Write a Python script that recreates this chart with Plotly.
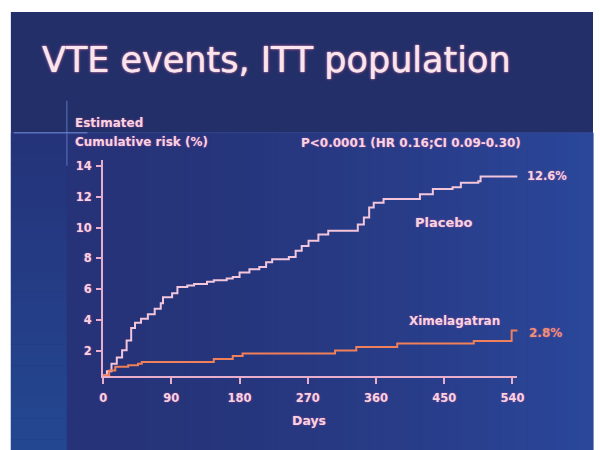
import numpy as np
import plotly.graph_objects as go

# ---------------- data ----------------
placebo_days = [0, 5, 11, 18, 25, 31, 37, 42, 50, 59, 68, 76, 79, 86, 91, 98, 111, 120,
                137, 146, 163, 171, 180, 193, 206, 215, 223, 241, 245, 254, 262, 271,
                284, 297, 327, 336, 344, 351, 357, 370, 409, 418, 435, 461, 472, 495,
                498, 547]
placebo_risk = [0.45, 0.7, 1.2, 1.6, 2.06, 2.7, 3.5, 3.85, 4.1, 4.4, 4.75, 5.1, 5.5, 5.5,
                5.75, 6.15, 6.25, 6.35, 6.5, 6.6, 6.7, 6.8, 7.1, 7.3, 7.45, 7.75, 7.95,
                7.95, 8.1, 8.5, 8.8, 9.15, 9.55, 9.8, 9.8, 10.2, 10.65, 11.3, 11.6, 11.85,
                11.85, 12.15, 12.5, 12.6, 12.9, 13.0, 13.3, 13.3]

ximel_days = [0, 8, 16, 29, 33, 46, 51, 141, 146, 163, 171, 184, 301, 306, 328, 334,
              385, 388, 485, 489, 537, 539, 547]
ximel_risk = [0.45, 0.75, 1.0, 1.0, 1.1, 1.2, 1.3, 1.3, 1.5, 1.5, 1.7, 1.85, 1.85, 2.05,
              2.05, 2.28, 2.28, 2.5, 2.5, 2.66, 2.66, 3.35, 3.4]

x_ticks = [0, 90, 180, 270, 360, 450, 540]
y_ticks = [2, 4, 6, 8, 10, 12, 14]

title_text = "VTE events, ITT population"
y_title_lines = ["Estimated", "Cumulative risk (%)"]
p_text = "P<0.0001 (HR 0.16;CI 0.09-0.30)"
placebo_label = "Placebo"
ximel_label = "Ximelagatran"
placebo_end = "12.6%"
ximel_end = "2.8%"
x_title = "Days"

# ---------------- styling ----------------
W, H = 600, 450
PINK = "#f6d3e2"
PLACEBO_COLOR = "#f3c6dc"
XIMEL_COLOR = "#f0805a"
AXIS_COLOR = "#e9aecb"
GLOW = "0px 0px 2px rgba(255,90,160,0.55)"
FONT = "DejaVu Sans"


def px(x):
    return x / W


def py(y):
    return 1 - y / H


shapes = []
# slide base
shapes.append(dict(type="rect", xref="paper", yref="paper", x0=px(7), x1=px(600),
                   y0=py(450), y1=py(11), fillcolor="#232f68", line_width=0, layer="below"))
# lower area: navy on the left shading to brighter blue on the right
n = 40
xs = np.linspace(64, 600, n + 1)
c0 = np.array([0x26, 0x33, 0x78])
c1 = np.array([0x2b, 0x47, 0x9a])
for i in range(n):
    t = (i / (n - 1)) ** 1.6
    c = (c0 + (c1 - c0) * t).astype(int)
    shapes.append(dict(type="rect", xref="paper", yref="paper", x0=px(xs[i]), x1=px(xs[i + 1]) + 0.001,
                       y0=py(450), y1=py(132), fillcolor="rgb(%d,%d,%d)" % tuple(c),
                       line_width=0, layer="below"))
# left strip: navy at the top shading to brighter blue at the bottom
m = 30
ys = np.linspace(132, 450, m + 1)
d0 = np.array([0x25, 0x34, 0x7a])
d1 = np.array([0x24, 0x47, 0x92])
for i in range(m):
    t = i / (m - 1)
    c = (d0 + (d1 - d0) * t).astype(int)
    shapes.append(dict(type="rect", xref="paper", yref="paper", x0=px(7), x1=px(64),
                       y0=py(ys[i + 1]) - 0.001, y1=py(ys[i]), fillcolor="rgb(%d,%d,%d)" % tuple(c),
                       line_width=0, layer="below"))
shapes.append(dict(type="line", xref="paper", yref="paper", x0=px(7), x1=px(600),
                   y0=py(132), y1=py(132), line=dict(color="rgba(70,95,170,0.45)", width=1),
                   layer="below"))
shapes.append(dict(type="line", xref="paper", yref="paper", x0=px(10), x1=px(85),
                   y0=py(132), y1=py(132), line=dict(color="rgba(120,150,225,0.6)", width=1.5),
                   layer="below"))
shapes.append(dict(type="line", xref="paper", yref="paper", x0=px(64), x1=px(64),
                   y0=py(165), y1=py(100), line=dict(color="rgba(110,140,215,0.5)", width=1.5),
                   layer="below"))

fig = go.Figure()
fig.add_trace(go.Scatter(x=placebo_days, y=placebo_risk, mode="lines", line_shape="hv",
                         line=dict(color=PLACEBO_COLOR, width=2), name=placebo_label,
                         showlegend=False, cliponaxis=False))
fig.add_trace(go.Scatter(x=ximel_days, y=ximel_risk, mode="lines", line_shape="hv",
                         line=dict(color=XIMEL_COLOR, width=2), name=ximel_label,
                         showlegend=False, cliponaxis=False))


def ann(text, x, y, size, color=PINK, xanchor="left", bold=True, xref="paper", yref="paper",
        family=FONT, shadow=GLOW):
    return dict(text=("<b>%s</b>" % text) if bold else text, x=x, y=y, xref=xref, yref=yref,
                xanchor=xanchor, yanchor="middle", showarrow=False,
                font=dict(family=family, size=size, color=color, shadow=shadow))


annotations = [
    ann(title_text, px(37), py(59), 35, color="#f8e6ec", bold=False,
        shadow="0px 0px 1px #f8e6ec, 0px 0px 3px rgba(255,110,170,0.8)"),
    ann(y_title_lines[0], px(70), py(122), 12),
    ann(y_title_lines[1], px(70), py(141), 12),
    ann(p_text, px(300), py(142), 12),
    ann(placebo_end, px(531), py(175), 11.5),
    ann(placebo_label, px(448), py(222), 13, xanchor="center"),
    ann(ximel_label, px(459), py(321), 12, xanchor="center"),
    ann(ximel_end, px(533), py(333), 12, color="#ec9274"),
    ann(x_title, px(311), py(420), 12.5, xanchor="center"),
    # the "0" label of the risk axis sits just below the day axis
    dict(text="<b>0</b>", x=0, y=0, xref="x", yref="y", xanchor="right", yanchor="middle",
         xshift=-8, showarrow=False,
         font=dict(family=FONT, size=11.5, color=PINK, shadow=GLOW)),
]

fig.update_layout(
    width=W, height=H,
    margin=dict(l=0, r=0, t=0, b=0),
    paper_bgcolor="white",
    plot_bgcolor="rgba(0,0,0,0)",
    shapes=shapes,
    annotations=annotations,
    showlegend=False,
    xaxis=dict(domain=[px(101), px(523)], range=[0, 546.6], tickvals=x_ticks,
               showgrid=False, zeroline=False, showline=True, linecolor=AXIS_COLOR, linewidth=2,
               ticks="outside", ticklen=6, tickwidth=1.5, tickcolor=AXIS_COLOR,
               ticklabelstandoff=4,
               tickfont=dict(family=FONT, size=11.5, color=PINK, weight="bold", shadow=GLOW)),
    yaxis=dict(domain=[py(376), py(159)], range=[0.39, 14.39], tickvals=y_ticks,
               showgrid=False, zeroline=False, showline=True, linecolor=AXIS_COLOR, linewidth=2,
               ticks="outside", ticklen=5, tickwidth=1.5, tickcolor=AXIS_COLOR,
               ticklabelstandoff=2,
               tickfont=dict(family=FONT, size=11.5, color=PINK, weight="bold", shadow=GLOW)),
)

fig.write_html("out.html", config={"responsive": False, "displayModeBar": False},
               post_script="document.body.style.margin='0px';document.body.style.overflow='hidden';")
